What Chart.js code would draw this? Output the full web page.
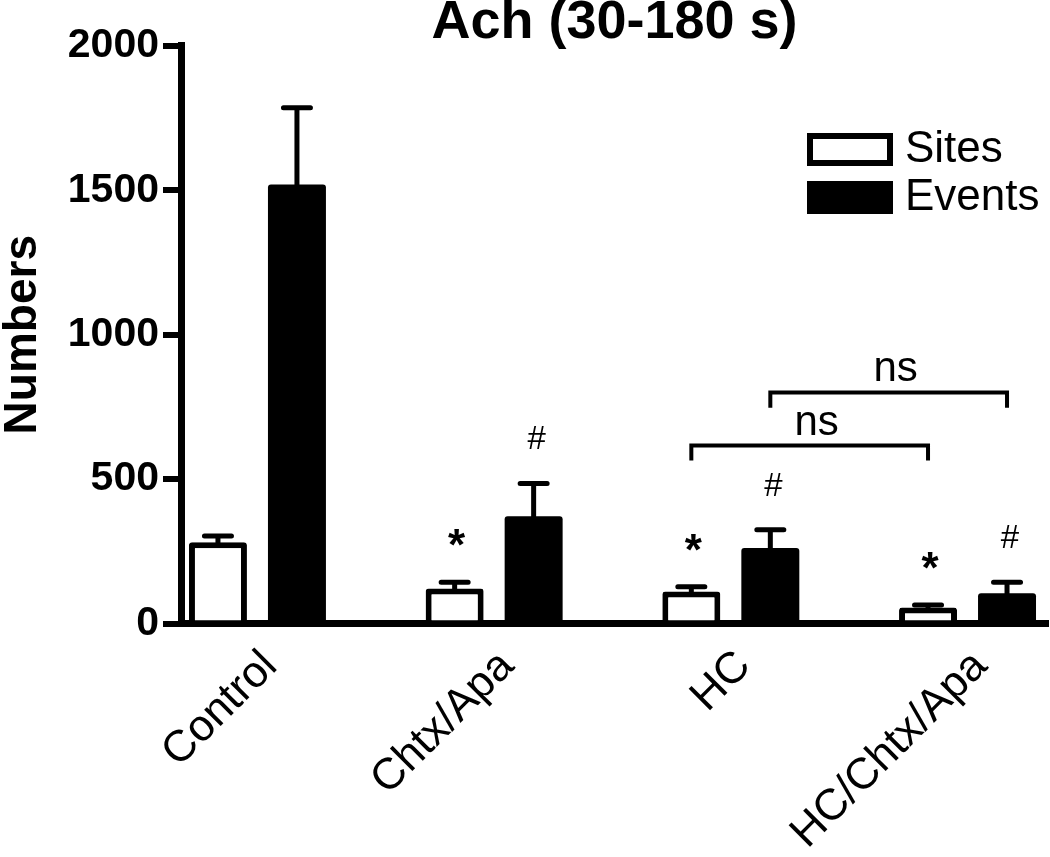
<!DOCTYPE html>
<html>
<head>
<meta charset="utf-8">
<script src="https://cdn.jsdelivr.net/npm/chart.js@4.4.1/dist/chart.umd.min.js"></script>
<style>
    html, body { margin: 0; padding: 0; background: #fff; }
</style>
</head>
<body>
<canvas id="ach-chart" width="1050" height="857"></canvas>
<script>
const groups = ['Control', 'Chtx/Apa', 'HC', 'HC/Chtx/Apa'];
const sitesMean = [281, 121, 111, 55];
const sitesSem = [22, 22, 16, 9];
const eventsMean = [1520, 371, 261, 105];
const eventsSem = [266, 114, 64, 38];
const sitesMarks = ['', '*', '*', '*'];
const eventsMarks = ['', '#', '#', '#'];
const yTicks = [0, 500, 1000, 1500, 2000];
// comparison brackets: [group, dataset] at each end, bar height and leg end in data units
const brackets = [
    { from: [2, 0], to: [3, 0], top: 616, end: 564, label: 'ns' },
    { from: [2, 1], to: [3, 1], top: 800, end: 747, label: 'ns' }
];

const FONT = '"Liberation Sans", Arial, Helvetica, sans-serif';

const annotations = {
    id: 'annotations',
    afterDatasetsDraw(chart) {
        const ctx = chart.ctx;
        const yScale = chart.scales.y;
        const sems = [sitesSem, eventsSem];
        const marks = [sitesMarks, eventsMarks];
        ctx.save();
        ctx.strokeStyle = '#000';
        ctx.fillStyle = '#000';
        ctx.lineCap = 'round';

        // error bars (upper only) and significance marks
        chart.data.datasets.forEach((ds, d) => {
            chart.getDatasetMeta(d).data.forEach((bar, i) => {
                const top = yScale.getPixelForValue(ds.data[i].y + sems[d][i]);
                ctx.lineWidth = 5;
                ctx.beginPath();
                ctx.moveTo(bar.x, bar.y + 2);
                ctx.lineTo(bar.x, top);
                ctx.moveTo(bar.x - 13.5, top);
                ctx.lineTo(bar.x + 13.5, top);
                ctx.stroke();

                const mark = marks[d][i];
                ctx.textAlign = 'center';
                ctx.textBaseline = 'alphabetic';
                if (mark === '*') {
                    ctx.font = 'bold 44px ' + FONT;
                    ctx.fillText(mark, bar.x + 2, top - 47 + 25);
                } else if (mark) {
                    ctx.font = '33px ' + FONT;
                    ctx.fillText(mark, bar.x + 3, top - 46 + 12);
                }
            });
        });

        // ns brackets
        ctx.lineWidth = 4;
        ctx.lineCap = 'butt';
        brackets.forEach(b => {
            const x1 = chart.getDatasetMeta(b.from[1]).data[b.from[0]].x;
            const x2 = chart.getDatasetMeta(b.to[1]).data[b.to[0]].x;
            const yTop = yScale.getPixelForValue(b.top);
            const yEnd = yScale.getPixelForValue(b.end);
            ctx.beginPath();
            ctx.moveTo(x1, yEnd);
            ctx.lineTo(x1, yTop);
            ctx.lineTo(x2, yTop);
            ctx.lineTo(x2, yEnd);
            ctx.stroke();
            ctx.font = '42px ' + FONT;
            ctx.textAlign = 'center';
            ctx.textBaseline = 'alphabetic';
            ctx.fillText(b.label, (x1 + x2) / 2 + 7, yTop - 11);
        });
        ctx.restore();
    }
};

const boxLegend = {
    id: 'boxLegend',
    afterDraw(chart) {
        const ctx = chart.ctx;
        ctx.save();
        chart.data.datasets.forEach((ds, d) => {
            const cy = 149 + d * 48;
            ctx.fillStyle = ds.backgroundColor;
            ctx.fillRect(807, cy - 16, 86, 33);
            if (ds.borderWidth) {
                ctx.strokeStyle = ds.borderColor;
                ctx.lineWidth = 6;
                ctx.strokeRect(810, cy - 13, 80, 27);
            }
            ctx.fillStyle = '#000';
            ctx.font = '44px ' + FONT;
            ctx.textAlign = 'left';
            ctx.textBaseline = 'middle';
            ctx.fillText(ds.label, 905, cy + 1);
        });
        ctx.restore();
    }
};

const ctx = document.getElementById('ach-chart').getContext('2d');
new Chart(ctx, {
    type: 'bar',
    data: {
        datasets: [{
            label: 'Sites',
            data: sitesMean.map((v, i) => ({ x: i, y: v })),
            backgroundColor: '#ffffff',
            borderColor: '#000000',
            borderWidth: 6,
            borderRadius: 3
        }, {
            label: 'Events',
            data: eventsMean.map((v, i) => ({ x: i, y: v })),
            backgroundColor: '#000000',
            borderWidth: 0,
            borderRadius: 3
        }]
    },
    options: {
        responsive: false,
        animation: false,
        categoryPercentage: 0.6675,
        barPercentage: 0.734,
        layout: { padding: { left: 0, right: 2, top: 0, bottom: 0 } },
        plugins: {
            legend: { display: false },
            tooltip: { enabled: false },
            title: {
                display: true,
                text: 'Ach (30-180 s)',
                fullSize: false,
                color: '#000',
                font: { family: FONT, size: 54, weight: 'bold', lineHeight: 0.85 },
                padding: { top: 0, bottom: 0 }
            }
        },
        scales: {
            x: {
                type: 'linear',
                offset: false,
                min: -0.323,
                max: 3.34,
                z: 1,
                afterBuildTicks: s => { s.ticks = groups.map((g, i) => ({ value: i })); },
                afterFit: s => { s.height = 233.5; },
                grid: { display: false, offset: false },
                border: { display: true, color: '#000', width: 7 },
                ticks: {
                    autoSkip: false,
                    minRotation: 45,
                    maxRotation: 45,
                    padding: 9,
                    labelOffset: 13,
                    color: '#000',
                    font: { family: FONT, size: 44 },
                    callback: v => groups[v]
                }
            },
            y: {
                min: 0,
                max: 2000,
                z: 1,
                afterBuildTicks: s => { s.ticks = yTicks.map(v => ({ value: v })); },
                afterFit: s => { s.width = 181; },
                grid: {
                    drawOnChartArea: false,
                    color: '#000',
                    lineWidth: 6,
                    tickLength: 18
                },
                border: { display: true, color: '#000', width: 7 },
                ticks: {
                    padding: 4,
                    color: '#000',
                    font: { family: FONT, size: 41, weight: 'bold' },
                    callback: v => String(v)
                },
                title: {
                    display: true,
                    text: 'Numbers',
                    color: '#000',
                    font: { family: FONT, size: 46, weight: 'bold', lineHeight: 1 },
                    padding: { top: 0, bottom: 0 }
                }
            }
        }
    },
    plugins: [annotations, boxLegend]
});
</script>
</body>
</html>
